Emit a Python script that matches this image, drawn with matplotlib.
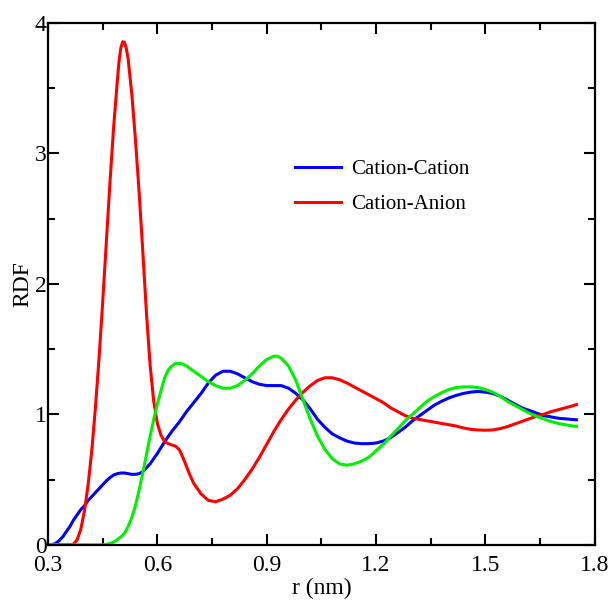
#!/usr/bin/env python3
"""Radial distribution functions: cation-cation, cation-anion and a third pair."""
import matplotlib
matplotlib.use('Agg')
import matplotlib.pyplot as plt
from matplotlib.ticker import MultipleLocator

# cation-cation (blue)
r_cc = [0.30, 0.31, 0.32, 0.33, 0.34, 0.35, 0.36, 0.37, 0.38, 0.39, 0.40, 0.41, 0.42, 0.43,
        0.44, 0.45, 0.46, 0.47, 0.48, 0.49, 0.50, 0.51, 0.52, 0.53, 0.54, 0.55, 0.56, 0.57,
        0.58, 0.60, 0.62, 0.64, 0.66, 0.68, 0.70, 0.72, 0.74, 0.76, 0.78, 0.80, 0.82, 0.84,
        0.86, 0.88, 0.90, 0.92, 0.94, 0.96, 0.98, 1.00, 1.02, 1.04, 1.06, 1.08, 1.10, 1.12,
        1.14, 1.16, 1.18, 1.20, 1.22, 1.24, 1.26, 1.28, 1.30, 1.32, 1.34, 1.36, 1.38, 1.40,
        1.42, 1.44, 1.46, 1.48, 1.50, 1.52, 1.54, 1.56, 1.58, 1.60, 1.62, 1.64, 1.66, 1.68,
        1.70, 1.72, 1.74, 1.75]
g_cc = [0.0, 0.0, 0.01, 0.03, 0.06, 0.10, 0.14, 0.19, 0.23, 0.27, 0.30, 0.34, 0.37, 0.40,
        0.43, 0.46, 0.49, 0.515, 0.535, 0.545, 0.55, 0.55, 0.545, 0.54, 0.54, 0.545, 0.56, 0.59,
        0.62, 0.70, 0.79, 0.87, 0.94, 1.02, 1.09, 1.16, 1.24, 1.30, 1.33, 1.33, 1.31, 1.28,
        1.25, 1.23, 1.22, 1.22, 1.22, 1.20, 1.16, 1.11, 1.04, 0.96, 0.90, 0.85, 0.82, 0.795,
        0.78, 0.775, 0.775, 0.78, 0.795, 0.82, 0.86, 0.90, 0.95, 0.99, 1.03, 1.07, 1.10, 1.125,
        1.145, 1.16, 1.17, 1.175, 1.17, 1.16, 1.14, 1.11, 1.08, 1.05, 1.03, 1.01, 0.99, 0.98,
        0.97, 0.965, 0.96, 0.958]

# cation-anion (red)
r_ca = [0.30, 0.35, 0.36, 0.37, 0.38, 0.39, 0.40, 0.41, 0.42, 0.43, 0.44, 0.45, 0.46, 0.47,
        0.48, 0.49, 0.495, 0.50, 0.505, 0.51, 0.515, 0.52, 0.53, 0.54, 0.55, 0.56, 0.57, 0.58,
        0.59, 0.60, 0.61, 0.62, 0.63, 0.64, 0.65, 0.66, 0.67, 0.68, 0.69, 0.70, 0.72, 0.74,
        0.76, 0.78, 0.80, 0.82, 0.84, 0.86, 0.88, 0.90, 0.92, 0.94, 0.96, 0.98, 1.00, 1.02,
        1.04, 1.06, 1.08, 1.10, 1.12, 1.14, 1.16, 1.18, 1.20, 1.22, 1.24, 1.26, 1.28, 1.30,
        1.32, 1.34, 1.36, 1.38, 1.40, 1.42, 1.44, 1.46, 1.48, 1.50, 1.52, 1.54, 1.56, 1.58,
        1.60, 1.62, 1.64, 1.66, 1.68, 1.70, 1.72, 1.74, 1.75]
g_ca = [0.0, 0.0, 0.0, 0.005, 0.04, 0.12, 0.26, 0.46, 0.72, 1.05, 1.43, 1.86, 2.32, 2.78,
        3.20, 3.55, 3.71, 3.81, 3.855, 3.85, 3.80, 3.72, 3.45, 3.10, 2.70, 2.25, 1.78, 1.38,
        1.10, 0.93, 0.84, 0.79, 0.775, 0.765, 0.755, 0.73, 0.67, 0.60, 0.53, 0.47, 0.39, 0.34,
        0.33, 0.35, 0.38, 0.43, 0.50, 0.58, 0.67, 0.77, 0.87, 0.96, 1.04, 1.11, 1.17, 1.22,
        1.26, 1.28, 1.28, 1.265, 1.24, 1.21, 1.18, 1.15, 1.12, 1.09, 1.05, 1.02, 0.99, 0.97,
        0.96, 0.95, 0.94, 0.93, 0.92, 0.91, 0.895, 0.885, 0.88, 0.878, 0.88, 0.89, 0.905, 0.925,
        0.945, 0.965, 0.985, 1.0, 1.02, 1.035, 1.05, 1.065, 1.075]

# third pair (green, not in legend)
r_aa = [0.30, 0.45, 0.46, 0.47, 0.48, 0.49, 0.50, 0.51, 0.52, 0.53, 0.54, 0.55, 0.56, 0.57,
        0.58, 0.59, 0.60, 0.61, 0.62, 0.63, 0.64, 0.65, 0.66, 0.67, 0.68, 0.70, 0.72, 0.74,
        0.76, 0.78, 0.80, 0.82, 0.84, 0.86, 0.88, 0.90, 0.92, 0.93, 0.94, 0.96, 0.98, 1.00,
        1.02, 1.04, 1.06, 1.08, 1.10, 1.12, 1.14, 1.16, 1.18, 1.20, 1.22, 1.24, 1.26, 1.28,
        1.30, 1.32, 1.34, 1.36, 1.38, 1.40, 1.42, 1.44, 1.46, 1.48, 1.50, 1.52, 1.54, 1.56,
        1.58, 1.60, 1.62, 1.64, 1.66, 1.68, 1.70, 1.72, 1.74, 1.75]
g_aa = [0.0, 0.0, 0.003, 0.01, 0.02, 0.04, 0.06, 0.09, 0.14, 0.21, 0.30, 0.42, 0.55, 0.69,
        0.83, 0.96, 1.08, 1.18, 1.28, 1.34, 1.37, 1.39, 1.39, 1.385, 1.37, 1.33, 1.29, 1.25,
        1.22, 1.20, 1.20, 1.22, 1.26, 1.31, 1.37, 1.42, 1.445, 1.445, 1.43, 1.37, 1.26, 1.11,
        0.96, 0.83, 0.73, 0.66, 0.62, 0.61, 0.62, 0.64, 0.67, 0.72, 0.77, 0.83, 0.89, 0.95,
        1.00, 1.05, 1.10, 1.135, 1.165, 1.19, 1.205, 1.21, 1.21, 1.205, 1.19, 1.17, 1.14, 1.10,
        1.07, 1.04, 1.01, 0.985, 0.965, 0.945, 0.93, 0.92, 0.91, 0.908]

x_ticks = [0.3, 0.6, 0.9, 1.2, 1.5, 1.8]
y_ticks = [0, 1, 2, 3, 4]

plt.rcParams['font.family'] = ['Liberation Serif', 'DejaVu Serif']

fig = plt.figure(figsize=(6.08, 6.0), dpi=100)
ax = fig.add_axes([0.079, 0.092, 0.899, 0.870])

ax.plot(r_cc, g_cc, color='#0000ff', lw=2.2, label='Cation-Cation')
ax.plot(r_ca, g_ca, color='#ff0000', lw=2.2, label='Cation-Anion')
ax.plot(r_aa, g_aa, color='#00f000', lw=2.2)

ax.set_xlim(0.3, 1.8)
ax.set_ylim(0, 4)
ax.set_xticks(x_ticks)
ax.set_xticklabels([f'{v:g}' for v in x_ticks])
ax.set_yticks(y_ticks)
ax.xaxis.set_minor_locator(MultipleLocator(0.15))
ax.yaxis.set_minor_locator(MultipleLocator(0.5))
ax.tick_params(which='both', direction='in', top=True, right=True, width=1.5, labelsize=17)
ax.tick_params(which='major', length=8)
ax.tick_params(which='minor', length=5)
ax.tick_params(axis='x', pad=7)
ax.tick_params(axis='y', pad=1)
for s in ax.spines.values():
    s.set_linewidth(1.6)

ax.set_xlabel('r (nm)', fontsize=17, labelpad=2)
ax.set_ylabel('RDF', fontsize=17, labelpad=1)

ax.legend(loc='upper left', bbox_to_anchor=(0.452, 0.738), frameon=False, fontsize=15,
          handlelength=2.2, handletextpad=0.5, labelspacing=0.74, borderpad=0, borderaxespad=0)

fig.savefig('out.png', dpi=100)
